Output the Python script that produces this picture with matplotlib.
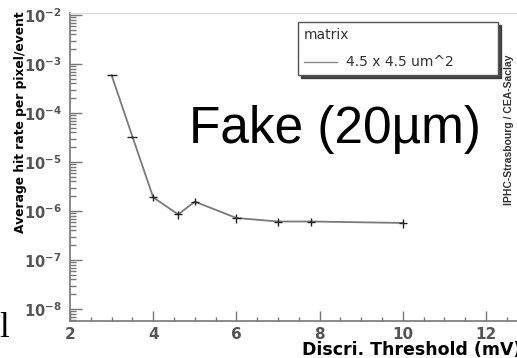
import matplotlib
matplotlib.use('Agg')
import matplotlib.pyplot as plt
import numpy as np
from matplotlib.ticker import FixedLocator, MultipleLocator, LogLocator, FuncFormatter, NullFormatter

# data
threshold = [3.0, 3.5, 4.0, 4.6, 5.0, 6.0, 7.0, 7.8, 10.0]
hit_rate = [5.9e-4, 3.3e-5, 1.9e-6, 8.5e-7, 1.55e-6, 7.2e-7, 6.1e-7, 6.1e-7, 5.7e-7]
rate_err = [1.5e-5, 1.5e-6, 3.0e-7, 1.6e-7, 2.5e-7, 1.4e-7, 1.2e-7, 1.2e-7, 1.2e-7]
thr_err = [0.12, 0.12, 0.1, 0.1, 0.1, 0.1, 0.1, 0.1, 0.1]
x_major = [2, 4, 6, 8, 10, 12]
legend_title = 'matrix'
series_label = '4.5 x 4.5 um^2'

W, H = 517, 358
plt.rcParams['font.family'] = 'DejaVu Sans'
plt.rcParams['mathtext.fontset'] = 'dejavusans'

fig = plt.figure(figsize=(W/100, H/100), dpi=100)
fig.patch.set_facecolor('white')

# axes: left at px 70, bottom px 321, top px 13, runs off the right edge
ax = fig.add_axes([70/W, (H-321)/H, (W-70)/W, (321-13)/H])
ax.set_xlim(2, 12.745)
ax.set_yscale('log')
ax.set_ylim(10**-8.245, 10**-1.96)

line, = ax.plot(threshold, hit_rate, color='#7a7a7a', lw=1.3, zorder=2)
ax.errorbar(threshold, hit_rate, yerr=rate_err, xerr=thr_err, fmt='none',
            ecolor='#222222', elinewidth=1.0, capsize=0, zorder=3)

ax.spines['right'].set_visible(False)
ax.spines['top'].set_color('#dddddd')
ax.spines['left'].set_color('#777777')
ax.spines['bottom'].set_color('#777777')
ax.spines['left'].set_linewidth(1.2)
ax.spines['bottom'].set_linewidth(1.2)

ax.xaxis.set_major_locator(FixedLocator(x_major))
ax.xaxis.set_minor_locator(MultipleLocator(0.5))
ax.yaxis.set_major_locator(LogLocator(base=10, numticks=20))
ax.yaxis.set_minor_locator(LogLocator(base=10, subs=np.arange(2, 10), numticks=20))
ax.yaxis.set_minor_formatter(NullFormatter())
ax.yaxis.set_major_formatter(FuncFormatter(
    lambda v, p: r'$\mathbf{10^{%d}}$' % int(round(np.log10(v)))))

ax.tick_params(which='both', direction='in', top=False, right=False, color='#777777')
ax.tick_params(axis='x', which='major', length=7, width=1, pad=4,
               labelsize=11, labelcolor='#555555')
ax.tick_params(axis='x', which='minor', length=3, width=1)
ax.tick_params(axis='y', which='major', length=8.5, width=1, pad=6,
               labelsize=10.5, labelcolor='#555555')
ax.tick_params(axis='y', which='minor', length=4.5, width=1)
for lab in ax.get_xticklabels():
    lab.set_fontweight('bold')

ax.set_xlabel('Discri. Threshold (mV)', fontsize=12.5, fontweight='bold',
              ha='left', va='center')
ax.xaxis.set_label_coords((302-70)/(W-70), -(350-321)/(321-13))
ax.set_ylabel('Average hit rate per pixel/event', fontsize=8.8, fontweight='bold',
              va='center')
ax.yaxis.set_label_coords(-(70-21)/(W-70), (321-122)/(321-13))

leg = ax.legend([line], [series_label], title=legend_title, loc='upper left',
                bbox_to_anchor=(298/W, 1-75/H, 200/W, 53/H),
                bbox_transform=fig.transFigure, mode='expand', alignment='left',
                shadow={'color': '#333333', 'alpha': 0.9}, fancybox=False,
                borderaxespad=0, borderpad=0.4, handlelength=2.4,
                handletextpad=0.65, labelspacing=1.0, fontsize=10,
                title_fontsize=10, labelcolor='#333333')
leg.get_frame().set_edgecolor('#555555')
leg.get_frame().set_linewidth(1.0)
leg.get_title().set_color('#333333')
leg.get_lines()[0].set_color('#888888')
leg.get_lines()[0].set_linewidth(1.0)

fig.text(509/W, (H-130)/H, 'IPHC-Strasbourg / CEA-Saclay', rotation=90,
         family='Liberation Sans', fontweight='bold', fontsize=7.5,
         ha='center', va='center', color='#333333')

fig.text(189/W, (H-143)/H, 'Fake (20\u00b5m)', family='Liberation Sans',
         fontsize=37, ha='left', va='baseline', color='black')

fig.text(-1/W, (H-337)/H, 'l', family='Liberation Serif', fontsize=25,
         ha='left', va='baseline', color='black')

fig.savefig('out.png', dpi=100)
